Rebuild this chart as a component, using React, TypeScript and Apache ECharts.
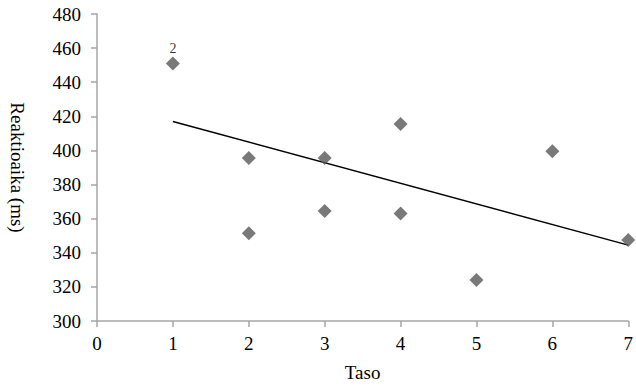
import React, { useEffect, useRef } from "react";
import * as echarts from "echarts";

const xValues = [1, 2, 2, 3, 3, 4, 4, 5, 6, 7];
const yValues = [451, 395.5, 351.5, 395.5, 364.5, 415.5, 363, 324, 399.5, 347.5];
const pointLabels = ["2", "", "", "", "", "", "", "", "", ""];
const trendX = [1, 7];
const trendY = [417, 344.5];
const xTicks = [0, 1, 2, 3, 4, 5, 6, 7];
const yTicks = [300, 320, 340, 360, 380, 400, 420, 440, 460, 480];

const FONT = "'Liberation Serif', 'Times New Roman', serif";

export default function App() {
  const ref = useRef<HTMLDivElement>(null);
  useEffect(() => {
    document.body.style.margin = "0";
    const chart = echarts.init(ref.current!, null, { renderer: "svg" });
    const axisLine = { show: true, lineStyle: { color: "#a6a6a6", width: 1.5 } };
    chart.setOption({
      animation: false,
      backgroundColor: "#ffffff",
      grid: { left: 94, right: 4, top: 14, bottom: 66, containLabel: false },
      xAxis: {
        type: "value",
        min: xTicks[0],
        max: xTicks[xTicks.length - 1],
        interval: 1,
        name: "Taso",
        nameLocation: "middle",
        nameGap: 42,
        nameTextStyle: { fontFamily: FONT, fontSize: 19, color: "#000" },
        axisLine,
        axisTick: { show: true, length: 6, lineStyle: { color: "#a6a6a6", width: 1.5 } },
        axisLabel: { fontFamily: FONT, fontSize: 19, color: "#000", margin: 13 },
        splitLine: { show: false },
      },
      yAxis: {
        type: "value",
        min: yTicks[0],
        max: yTicks[yTicks.length - 1],
        interval: 20,
        name: "Reaktioaika (ms)",
        nameLocation: "middle",
        nameRotate: -90,
        nameGap: 70,
        nameTextStyle: { fontFamily: FONT, fontSize: 19, color: "#000" },
        axisLine,
        axisTick: { show: true, length: 6, lineStyle: { color: "#a6a6a6", width: 1.5 } },
        axisLabel: { fontFamily: FONT, fontSize: 19, color: "#000", margin: 16 },
        splitLine: { show: false },
      },
      series: [
        {
          type: "line",
          data: trendX.map((x, i) => [x, trendY[i]]),
          symbol: "none",
          lineStyle: { color: "#000", width: 1.5 },
          z: 1,
        },
        {
          type: "scatter",
          data: xValues.map((x, i) => ({
            value: [x, yValues[i]],
            label: {
              show: pointLabels[i] !== "",
              formatter: pointLabels[i],
              position: "top",
              distance: 1,
              fontFamily: FONT,
              fontSize: 14,
              color: "#000",
            },
          })),
          symbol: "diamond",
          symbolSize: 14,
          itemStyle: { color: "#575757" },
          z: 2,
        },
      ],
    });
    return () => chart.dispose();
  }, []);
  return <div ref={ref} style={{ width: 636, height: 387 }} />;
}
